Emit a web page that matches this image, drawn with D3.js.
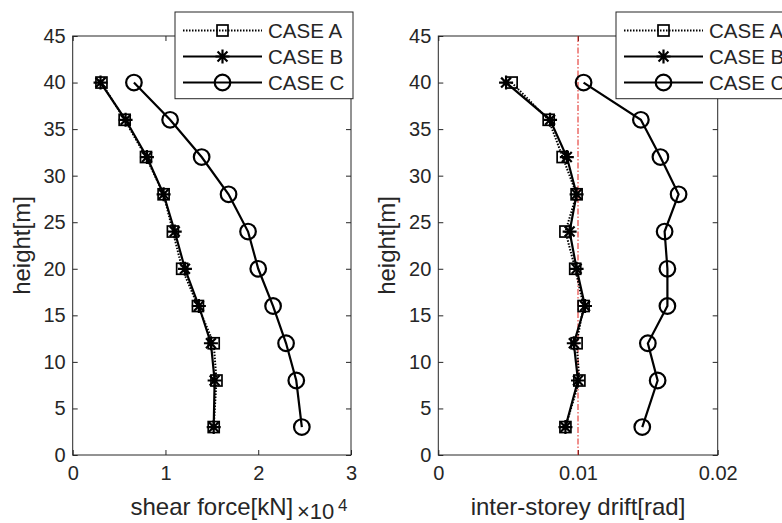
<!DOCTYPE html>
<html>
<head>
<meta charset="UTF-8">
<title>shear force / drift</title>
<script src="https://cdn.jsdelivr.net/npm/d3@7"></script>
<style>
  body { margin: 0; background: #fff; }
  text { font-family: "Liberation Sans", Arial, sans-serif; fill: #262626; }
</style>
</head>
<body>
<script>
// heights of the storeys [m]
var heights = [40, 36, 32, 28, 24, 20, 16, 12, 8, 3];
var yTicks = [0, 5, 10, 15, 20, 25, 30, 35, 40, 45];

// shear force [kN x 10^4]
var shearA = [0.31, 0.56, 0.79, 0.98, 1.08, 1.18, 1.35, 1.52, 1.55, 1.52];
var shearB = [0.30, 0.57, 0.80, 0.98, 1.10, 1.21, 1.36, 1.49, 1.53, 1.52];
var shearC = [0.66, 1.05, 1.39, 1.68, 1.89, 2.00, 2.16, 2.30, 2.41, 2.47];
var shearTicks = [0, 1, 2, 3];

// inter-storey drift [rad]
var driftA = [0.00525, 0.0079, 0.0089, 0.0099, 0.0091, 0.0098, 0.0104, 0.0099, 0.0101, 0.0091];
var driftB = [0.00485, 0.0080, 0.0092, 0.0099, 0.0094, 0.0099, 0.0105, 0.0097, 0.0100, 0.0091];
var driftC = [0.0104, 0.0145, 0.0159, 0.0172, 0.0162, 0.0164, 0.0164, 0.0150, 0.0157, 0.0146];
var driftTicks = [0, 0.01, 0.02];
var driftLimit = 0.01;

var caseNames = ["CASE A", "CASE B", "CASE C"];

var W = 782, H = 523;
var svg = d3.select("body").append("svg")
  .attr("width", W).attr("height", H);

var yTop = 36, yBot = 455;
var y = d3.scaleLinear().domain([0, 45]).range([yBot, yTop]);

// marker shapes
function starPath(s) {
  var d = s * 0.707;
  return "M" + (-s) + ",0L" + s + ",0M0," + (-s) + "L0," + s +
    "M" + (-d) + "," + (-d) + "L" + d + "," + d +
    "M" + (-d) + "," + d + "L" + d + "," + (-d);
}
function drawMarker(g, type, cx, cy) {
  if (type === "square") {
    g.append("rect").attr("x", cx - 5.5).attr("y", cy - 5.5)
      .attr("width", 11).attr("height", 11)
      .attr("fill", "none").attr("stroke", "#000").attr("stroke-width", 1.7);
  } else if (type === "star") {
    g.append("path").attr("transform", "translate(" + cx + "," + cy + ")")
      .attr("d", starPath(7))
      .attr("fill", "none").attr("stroke", "#000").attr("stroke-width", 2.2);
  } else {
    g.append("circle").attr("cx", cx).attr("cy", cy).attr("r", 7.8)
      .attr("fill", "none").attr("stroke", "#000").attr("stroke-width", 2.2);
  }
}

var styles = [
  { marker: "square", dash: "1.5,1.5", width: 2 },
  { marker: "star", dash: null, width: 2.2 },
  { marker: "circle", dash: null, width: 2.2 }
];

function styleAxis(a, withText) {
  a.select(".domain").remove();
  a.selectAll("line").attr("stroke", "#262626");
  if (withText) a.selectAll("text").style("font-size", "20px").attr("fill", "#262626");
}

function panel(left, right, xmax, ticks, tickFmt, series, xlabel, legendX, refLine) {
  var x = d3.scaleLinear().domain([0, xmax]).range([left, right]);
  var g = svg.append("g");

  // axes box with inward ticks on all sides
  g.append("g").attr("transform", "translate(0," + yBot + ")")
    .call(d3.axisBottom(x).tickValues(ticks).tickSizeInner(-5).tickSizeOuter(0).tickFormat(tickFmt).tickPadding(11))
    .call(styleAxis, true);
  g.append("g").attr("transform", "translate(0," + yTop + ")")
    .call(d3.axisTop(x).tickValues(ticks).tickSizeInner(-5).tickSizeOuter(0).tickFormat(""))
    .call(styleAxis, false);
  g.append("g").attr("transform", "translate(" + left + ",0)")
    .call(d3.axisLeft(y).tickValues(yTicks).tickSizeInner(-5).tickSizeOuter(0).tickPadding(7))
    .call(styleAxis, true);
  g.append("g").attr("transform", "translate(" + right + ",0)")
    .call(d3.axisRight(y).tickValues(yTicks).tickSizeInner(-5).tickSizeOuter(0).tickFormat(""))
    .call(styleAxis, false);
  g.append("rect").attr("x", left).attr("y", yTop)
    .attr("width", right - left).attr("height", yBot - yTop)
    .attr("fill", "none").attr("stroke", "#262626").attr("stroke-width", 1);

  if (refLine != null) {
    g.append("line")
      .attr("x1", x(refLine)).attr("x2", x(refLine))
      .attr("y1", yTop).attr("y2", yBot)
      .attr("stroke", "#e0201a").attr("stroke-width", 1)
      .attr("stroke-dasharray", "6,2,1.5,2");
  }

  var line = d3.line().x(function (d) { return x(d[0]); }).y(function (d) { return y(d[1]); });

  series.forEach(function (vals, i) {
    var pts = vals.map(function (v, j) { return [v, heights[j]]; });
    g.append("path").datum(pts).attr("d", line)
      .attr("fill", "none").attr("stroke", "#000")
      .attr("stroke-width", styles[i].width)
      .attr("stroke-dasharray", styles[i].dash);
    pts.forEach(function (p) { drawMarker(g, styles[i].marker, x(p[0]), y(p[1])); });
  });

  // y label
  g.append("text")
    .attr("transform", "translate(" + (left - 43) + "," + ((yTop + yBot) / 2) + ") rotate(-90)")
    .attr("text-anchor", "middle").style("font-size", "24px").text("height[m]");

  // x label
  g.append("text").attr("x", (left + right) / 2).attr("y", 515)
    .attr("text-anchor", "middle").style("font-size", "24px").text(xlabel);

  // legend
  var lg = svg.append("g").attr("transform", "translate(" + legendX + ",12)");
  lg.append("rect").attr("width", 178).attr("height", 86.7)
    .attr("fill", "#fff").attr("stroke", "#262626").attr("stroke-width", 1);
  caseNames.forEach(function (name, i) {
    var ry = 18.5 + i * 26;
    lg.append("line").attr("x1", 8).attr("x2", 87).attr("y1", ry).attr("y2", ry)
      .attr("stroke", "#000").attr("stroke-width", styles[i].width)
      .attr("stroke-dasharray", styles[i].dash);
    drawMarker(lg, styles[i].marker, 47.5, ry);
    lg.append("text").attr("x", 93).attr("y", ry + 7).style("font-size", "20.5px").text(name);
  });
  return x;
}

// left panel: shear force
panel(72.7, 351, 3, shearTicks, d3.format("d"), [shearA, shearB, shearC],
  "shear force[kN]", 175, null);
svg.append("text").attr("x", 297).attr("y", 519).style("font-size", "22px").text("\u00d710");
svg.append("text").attr("x", 338).attr("y", 511).style("font-size", "17px").text("4");

// right panel: inter-storey drift
panel(438.3, 717.7, 0.02, driftTicks, function (d) { return d === 0 ? "0" : d3.format(".2f")(d); },
  [driftA, driftB, driftC], "inter-storey drift[rad]", 616, driftLimit);
</script>
</body>
</html>
